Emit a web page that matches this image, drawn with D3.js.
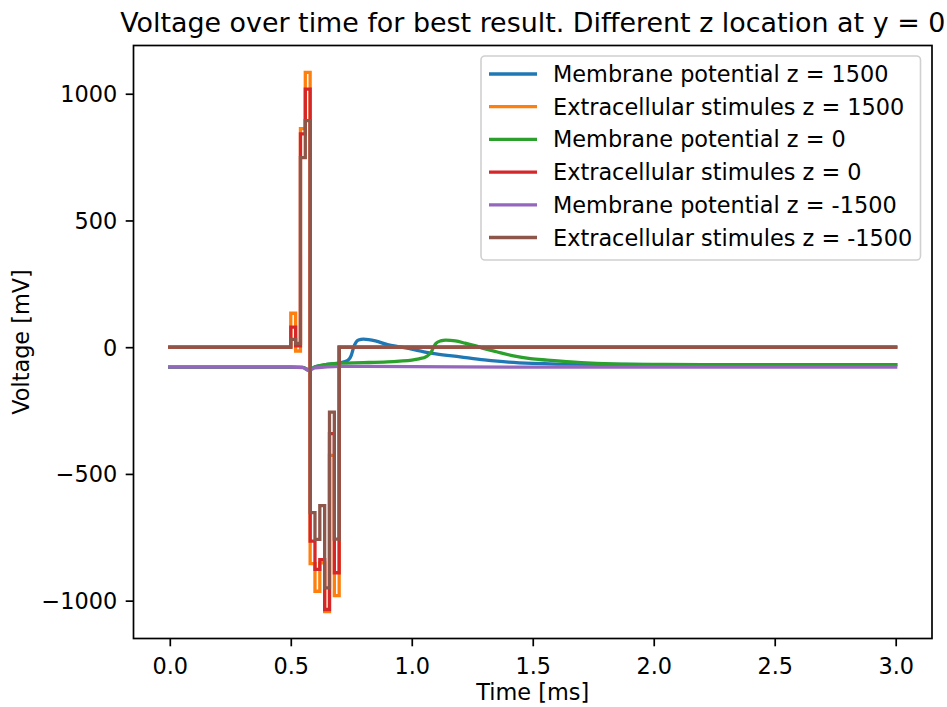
<!DOCTYPE html>
<html>
<head>
<meta charset="utf-8">
<script src="https://cdn.jsdelivr.net/npm/d3@7"></script>
<style>
  html, body { margin: 0; padding: 0; background: #fff; }
  svg { display: block; font-family: "DejaVu Sans", sans-serif; }
</style>
</head>
<body>
<svg id="chart" width="947" height="707"></svg>
<script>
// ---------- data ----------
const stimTimes = [0, 0.50, 0.52, 0.54, 0.56, 0.58, 0.60, 0.62, 0.64, 0.66, 0.68, 0.70, 3.0];
const stimZ1500  = [0, 134, -15, 862, 1084, -854, -963, -851, -1043, -427, -980, 0, 0];
const stimZ0     = [0, 79, 5, 842, 1018, -765, -877, -838, -1035, -341, -890, 0, 0];
const stimZm1500 = [0, 31, 15, 748, 894, -653, -758, -625, -950, -256, -757, 0, 0];

const memTimesA = [0, 0.5, 0.55, 0.575, 0.6, 0.65, 0.7, 0.72, 0.74, 0.75, 0.76, 0.77, 0.78, 0.8, 0.85, 0.9, 0.95, 1.0, 1.05, 1.1, 1.2, 1.3, 1.4, 1.5, 1.6, 1.8, 2.0, 3.0];
const memZ1500  = [-79, -79, -80, -90, -77, -68, -63, -58, -48, -32, 0, 20, 28, 32, 25, 10, 1, -8, -18, -26, -38, -50, -59, -64, -66.5, -68, -68.5, -68.5];

const memTimesB = [0, 0.5, 0.55, 0.575, 0.6, 0.65, 0.7, 0.8, 0.9, 0.95, 1.0, 1.03, 1.06, 1.08, 1.09, 1.1, 1.12, 1.14, 1.18, 1.22, 1.26, 1.3, 1.35, 1.42, 1.49, 1.56, 1.7, 1.83, 2.0, 2.2, 3.0];
const memZ0     = [-79, -79, -80, -90, -77, -68, -63, -61, -58, -55, -51, -46, -37, -20, 0, 15, 25, 28, 25, 16, 6, -6, -18, -34, -45, -51, -61, -66, -68, -68.5, -68.5];

const memTimesC = [0, 0.5, 0.55, 0.575, 0.6, 0.65, 0.7, 0.8, 1.0, 1.5, 3.0];
const memZm1500 = [-79, -79, -81, -91, -82, -78, -76, -76, -77, -78.5, -79];

const seriesNames = [
  "Membrane potential z = 1500",
  "Extracellular stimules z = 1500",
  "Membrane potential z = 0",
  "Extracellular stimules z = 0",
  "Membrane potential z = -1500",
  "Extracellular stimules z = -1500"
];
const seriesColors = ["#1f77b4", "#ff7f0e", "#2ca02c", "#d62728", "#9467bd", "#8c564b"];

const xTicks = [0, 0.5, 1.0, 1.5, 2.0, 2.5, 3.0];
const yTicks = [-1000, -500, 0, 500, 1000];

const titleText = "Voltage over time for best result. Different z location at y = 0";
const xLabel = "Time [ms]";
const yLabel = "Voltage [mV]";

// ---------- layout ----------
const svg = d3.select("#chart");
const plot = { left: 133.5, top: 45.5, right: 932, bottom: 638.5 };
const FS = 22.4, TFS = 26.9, LW = 3.3;

const series = [
  { t: memTimesA, v: memZ1500, step: false },
  { t: stimTimes, v: stimZ1500, step: true },
  { t: memTimesB, v: memZ0, step: false },
  { t: stimTimes, v: stimZ0, step: true },
  { t: memTimesC, v: memZm1500, step: false },
  { t: stimTimes, v: stimZm1500, step: true }
];

const allV = series.flatMap(s => s.v);
const vMin = d3.min(allV), vMax = d3.max(allV);
const vPad = (vMax - vMin) * 0.05;
const tPad = 3.0 * 0.05;

const x = d3.scaleLinear().domain([0 - tPad, 3.0 + tPad]).range([plot.left, plot.right]);
const y = d3.scaleLinear().domain([vMin - vPad, vMax + vPad]).range([plot.bottom, plot.top]);

svg.append("defs").append("clipPath").attr("id", "clip")
  .append("rect")
  .attr("x", plot.left).attr("y", plot.top)
  .attr("width", plot.right - plot.left).attr("height", plot.bottom - plot.top);

const g = svg.append("g").attr("clip-path", "url(#clip)");

series.forEach((s, i) => {
  const pts = s.t.map((t, j) => [t, s.v[j]]);
  const line = d3.line()
    .x(d => x(d[0])).y(d => y(d[1]))
    .curve(s.step ? d3.curveStepAfter : d3.curveMonotoneX);
  g.append("path")
    .attr("d", line(pts))
    .attr("fill", "none")
    .attr("stroke", seriesColors[i])
    .attr("stroke-width", LW)
    .attr("stroke-linejoin", "miter")
    .attr("stroke-linecap", "square");
});

// ---------- axes ----------
const fmtMinus = s => s.replace("-", "\u2212");

const xAxis = d3.axisBottom(x).tickValues(xTicks).tickFormat(d => fmtMinus(d3.format(".1f")(d)))
  .tickSize(7.8).tickPadding(6);
const yAxis = d3.axisLeft(y).tickValues(yTicks).tickFormat(d => fmtMinus(String(d)))
  .tickSize(7.8).tickPadding(8.5);

const gx = svg.append("g").attr("transform", `translate(0,${plot.bottom})`).call(xAxis);
const gy = svg.append("g").attr("transform", `translate(${plot.left},0)`).call(yAxis);
[gx, gy].forEach(ax => {
  ax.select(".domain").remove();
  ax.selectAll(".tick line").attr("stroke", "#000").attr("stroke-width", 1.7);
  ax.selectAll(".tick text").attr("fill", "#000").attr("font-size", FS + "px")
    .attr("font-family", "DejaVu Sans, sans-serif");
});
gx.selectAll(".tick text").attr("dy", "0.95em");
gy.selectAll(".tick text").attr("dy", "0.36em");

// spines
svg.append("rect")
  .attr("x", plot.left).attr("y", plot.top)
  .attr("width", plot.right - plot.left).attr("height", plot.bottom - plot.top)
  .attr("fill", "none").attr("stroke", "#000").attr("stroke-width", 1.7);

// ---------- labels ----------
const cx = (plot.left + plot.right) / 2;
svg.append("text").attr("x", cx).attr("y", 32).attr("text-anchor", "middle")
  .attr("font-size", TFS + "px").attr("fill", "#000").text(titleText);
svg.append("text").attr("x", cx).attr("y", 700).attr("text-anchor", "middle")
  .attr("font-size", FS + "px").attr("fill", "#000").text(xLabel);
svg.append("text")
  .attr("transform", `translate(29,${(plot.top + plot.bottom) / 2}) rotate(-90)`)
  .attr("text-anchor", "middle")
  .attr("font-size", FS + "px").attr("fill", "#000").text(yLabel);

// ---------- legend ----------
const leg = svg.append("g");
leg.append("rect")
  .attr("x", 481).attr("y", 56).attr("width", 439.5).attr("height", 204)
  .attr("rx", 4).attr("ry", 4)
  .attr("fill", "#fff").attr("fill-opacity", 0.8)
  .attr("stroke", "#d0d0d0").attr("stroke-width", 1.6);
seriesNames.forEach((name, i) => {
  const cy = 74 + i * 32.7;
  leg.append("line")
    .attr("x1", 489).attr("x2", 537).attr("y1", cy).attr("y2", cy)
    .attr("stroke", seriesColors[i]).attr("stroke-width", LW);
  leg.append("text")
    .attr("x", 553).attr("y", cy + 8)
    .attr("font-size", FS + "px").attr("fill", "#000").text(name);
});
</script>
</body>
</html>
